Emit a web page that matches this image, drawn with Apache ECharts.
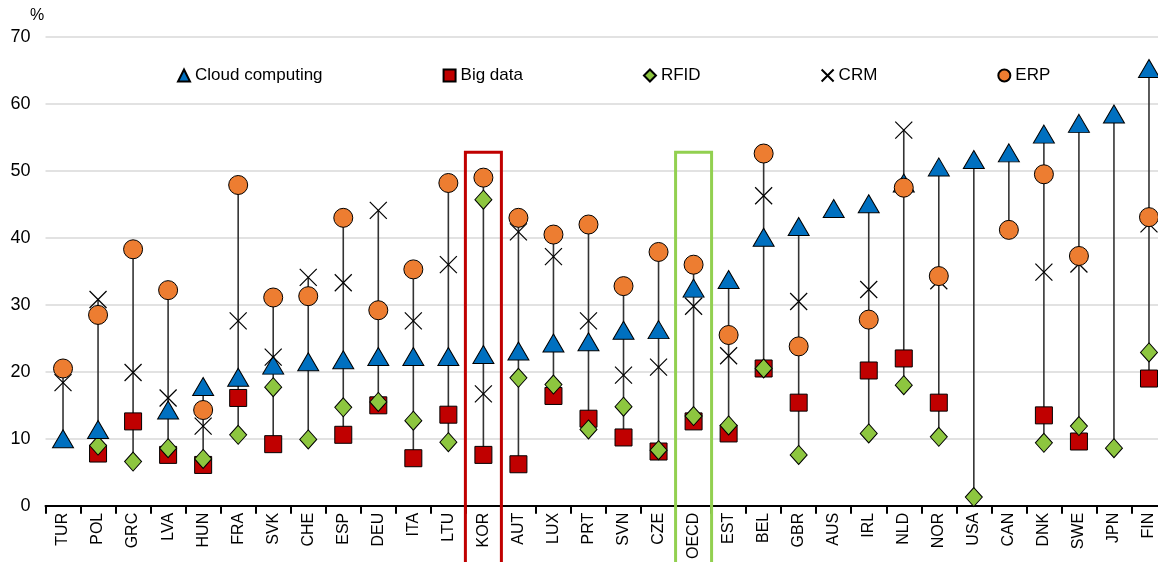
<!DOCTYPE html>
<html>
<head>
<meta charset="utf-8">
<script src="https://cdn.jsdelivr.net/npm/echarts@6/dist/echarts.min.js"></script>
<style>
html,body{margin:0;padding:0;background:#fff;overflow:hidden;width:1158px;height:562px;}
#c{width:1168px;height:562px;}
</style>
</head>
<body>
<div id="c"></div>
<script>
const categories = ['TUR','POL','GRC','LVA','HUN','FRA','SVK','CHE','ESP','DEU','ITA','LTU','KOR','AUT','LUX','PRT','SVN','CZE','OECD','EST','BEL','GBR','AUS','IRL','NLD','NOR','USA','CAN','DNK','SWE','JPN','FIN'];
const cloud = [10.0,11.4,null,14.3,17.8,19.2,21.0,21.5,21.8,22.3,22.3,22.3,22.6,23.1,24.3,24.5,26.2,26.3,32.5,33.8,40.1,41.7,44.4,45.1,48.2,50.6,51.7,52.7,55.5,57.1,58.5,65.3];
const bigData = [null,7.8,12.6,7.6,6.1,16.1,9.2,null,10.6,15.0,7.1,13.6,7.6,6.2,16.4,13.0,10.2,8.1,12.6,10.8,20.5,15.4,null,20.2,22.0,15.4,null,null,13.5,9.6,null,19.0];
const rfid = [null,9.0,6.6,8.6,7.0,10.6,17.7,9.9,14.7,15.5,12.7,9.5,45.7,19.1,18.1,11.4,14.8,8.3,13.4,12.0,20.5,7.6,null,10.8,18.0,10.3,1.3,null,9.4,11.9,8.6,22.9];
const crm = [18.4,30.8,19.9,16.1,11.9,27.6,22.2,34.1,33.3,44.1,27.6,36.0,16.7,40.9,37.2,27.6,19.5,20.7,29.8,22.4,46.3,30.5,null,32.3,56.1,33.6,null,null,34.9,36.1,null,42.1];
const erp = [20.5,28.5,38.3,32.2,14.3,47.9,31.1,31.3,43.0,29.2,35.3,48.2,49.0,43.0,40.5,42.0,32.8,37.9,36.0,25.5,52.6,23.8,null,27.8,47.5,34.3,null,41.2,49.5,37.3,null,43.1];
const yTicks = [0,10,20,30,40,50,60,70];
const highlights = [{cat:'KOR', color:'#C00000'}, {cat:'OECD', color:'#92D050'}];

const all = [cloud,bigData,rfid,crm,erp];
const lows = categories.map((_, i) => {
  const v = all.map(a => a[i]).filter(x => x != null);
  return Math.min.apply(null, v);
});
const spans = categories.map((_, i) => {
  const v = all.map(a => a[i]).filter(x => x != null);
  return Math.max.apply(null, v) - Math.min.apply(null, v);
});

const font = 'Liberation Sans, Arial, sans-serif';
const chart = echarts.init(document.getElementById('c'), null, {renderer:'canvas'});
const border = {borderColor:'#000', borderWidth:1, opacity:1};
const option = {
  animation:false,
  textStyle:{fontFamily:font},
  grid:{left:45.5, top:37, width:1121, height:469},
  legend:{
    left:172, top:62, itemGap:120, itemWidth:12, itemHeight:12,
    textStyle:{fontSize:17, color:'#000', fontFamily:font},
    data:['Cloud computing','Big data','RFID','CRM','ERP']
  },
  xAxis:{
    type:'category', data:categories, boundaryGap:true,
    axisLine:{lineStyle:{color:'#000', width:2}},
    axisTick:{show:true, length:8, interval:0, lineStyle:{color:'#000', width:2}},
    axisLabel:{rotate:90, interval:0, fontSize:16, color:'#000', margin:7, fontFamily:font}
  },
  yAxis:{
    type:'value', min:0, max:70, interval:10,
    axisLine:{show:false}, axisTick:{show:false},
    axisLabel:{fontSize:18, color:'#000', margin:15, fontFamily:font,
      formatter:v => yTicks.indexOf(v) >= 0 ? String(v) : ''},
    splitLine:{lineStyle:{color:'#d9d9d9', width:1.5}}
  },
  series:[
    {type:'bar', stack:'r', data:lows, barWidth:1.6, itemStyle:{color:'transparent'}, silent:true, z:1},
    {type:'bar', stack:'r', data:spans, barWidth:1.6, itemStyle:{color:'#333'}, silent:true, z:1},
    {name:'Big data', type:'scatter', data:bigData, symbol:'rect', symbolSize:17,
      itemStyle:Object.assign({color:'#C00000'}, border), z:3},
    {name:'RFID', type:'scatter', data:rfid, symbol:'diamond', symbolSize:[17,19],
      itemStyle:Object.assign({color:'#8DC63F'}, border), z:4},
    {name:'Cloud computing', type:'scatter', data:cloud, symbol:'triangle', symbolSize:[21,18],
      itemStyle:Object.assign({color:'#0070C0'}, border), z:5},
    {name:'CRM', type:'scatter', data:crm, symbol:'path://M0,0L10,10M10,0L0,10', symbolSize:17,
      itemStyle:{color:'transparent', borderColor:'#000', borderWidth:1.2, opacity:1}, z:6},
    {name:'ERP', type:'scatter', data:erp, symbol:'circle', symbolSize:19,
      itemStyle:Object.assign({color:'#ED7D31'}, border), z:7}
  ]
};
chart.setOption(option);

const gfx = [{type:'text', left:30, top:8, style:{text:'%', fontSize:16, fill:'#000', fontFamily:font}}];
highlights.forEach(h => {
  const cx = chart.convertToPixel({xAxisIndex:0}, h.cat);
  const top = chart.convertToPixel({yAxisIndex:0}, 52.8);
  gfx.push({type:'rect', shape:{x:cx-18, y:top, width:36, height:600},
    style:{fill:'none', stroke:h.color, lineWidth:3}, z:100});
});
chart.setOption({graphic:gfx});
</script>
</body>
</html>
